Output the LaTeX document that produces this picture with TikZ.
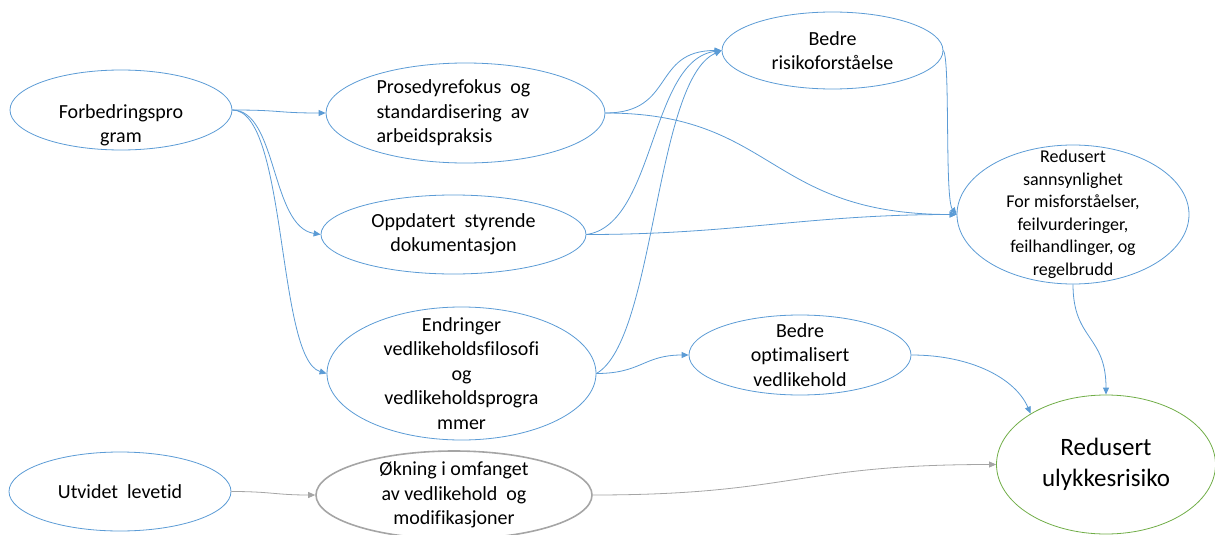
\documentclass[tikz,border=0pt]{standalone}
\usepackage{fontspec}
\setmainfont{Carlito}[Ligatures=NoCommon]
\usepackage{tikz}
\usetikzlibrary{shapes.geometric, arrows.meta}
\definecolor{blueline}{HTML}{5B9BD5}
\definecolor{greenline}{HTML}{70AD47}
\definecolor{grayline}{HTML}{A5A5A5}
\tikzstyle{bubble} = [ellipse, draw=blueline, line width=0.8pt, inner xsep=0pt, inner ysep=-80pt, align=center, font=\fontsize{20}{24.5}\selectfont]
\tikzstyle{arrow} = [line width=0.8pt, draw=blueline, -{Triangle[length=7pt,width=6pt]}]
\tikzstyle{grayarrow} = [arrow, draw=grayline]

\begin{document}
\begin{tikzpicture}[x=1pt, y=-1pt]
        \useasboundingbox (0,0) rectangle (1215,535);

        \node (forb) [bubble, minimum width=222pt, minimum height=80pt] at (121,110) {\rule{0pt}{44pt}Forbedringspro\\gram};
        \node (pros) [bubble, minimum width=279pt, minimum height=100pt, align=left] at (465.5,113) {Prosedyrefokus\ \ og\rule{24pt}{0pt}\\standardisering\ \ av\\arbeidspraksis};
        \node (opp) [bubble, minimum width=265pt, minimum height=79pt] at (453.5,234.5) {Oppdatert\ \ styrende\\dokumentasjon};
        \node (endr) [bubble, minimum width=269pt, minimum height=133pt] at (461.5,373.5) {Endringer\\vedlikeholdsfilosofi\\og\\vedlikeholdsprogra\\mmer};
        \node (risk) [bubble, minimum width=221pt, minimum height=77pt] at (832.5,50.5) {Bedre\\risikoforståelse};
        \node (sann) [bubble, minimum width=232pt, minimum height=139pt, font=\fontsize{18}{22.5}\selectfont] at (1073,214.5) {Redusert\\sannsynlighet\\For misforståelser,\\feilvurderinger,\\feilhandlinger, og\\regelbrudd};
        \node (opt) [bubble, minimum width=222pt, minimum height=80pt] at (800,355) {Bedre\\optimalisert\\vedlikehold};
        \node (red) [bubble, draw=greenline, minimum width=219pt, minimum height=139pt, font=\fontsize{25}{31}\selectfont] at (1106,464.5) {Redusert\\ulykkesrisiko};
        \node (utv) [bubble, minimum width=222pt, minimum height=79pt] at (120,491.5) {Utvidet\ \ levetid};
        \node (okn) [bubble, draw=grayline, line width=1.6pt, minimum width=276pt, minimum height=88pt] at (454,495) {Økning i omfanget\\av vedlikehold\ \ og\\modifikasjoner};

        % from the programme
        \draw [arrow] (forb.east) .. controls +(50,0) and +(-50,0) .. (pros.west);
        \draw [arrow] (forb.east) .. controls +(45,0) and +(-50,-8) .. (opp.west);
        \draw [arrow] (forb.east) .. controls +(55,0) and +(-50,-15) .. (endr.west);

        % into risk understanding
        \draw [arrow] (pros.east) .. controls +(70,0) and +(-70,0) .. (risk.west);
        \draw [arrow] (opp.east) .. controls +(69,-9.5) and +(-72,9.5) .. (risk.west);
        \draw [arrow] (endr.east) .. controls +(59,-33.5) and +(-67,29.5) .. (risk.west);

        % into reduced probability
        \draw [arrow] (pros.east) .. controls +(170,0) and +(-190,0) .. (sann.west);
        \draw [arrow] (opp.east) .. controls +(150,0) and +(-150,0) .. (sann.west);
        \draw [arrow] (risk.east) .. controls +(7,10) and +(-12,-15) .. (sann.west);

        \draw [arrow] (endr.east) .. controls +(45,0) and +(-45,0) .. (opt.west);

        % into reduced accident risk
        \draw [arrow] (sann.south) .. controls +(0,56) and +(0,-60) .. (red.north);
        \draw [arrow] (opt.east) .. controls +(60,0) and +(-15,-35) .. (red.146);

        % lifetime extension (grey)
        \draw [grayarrow] (utv.east) .. controls +(40,0) and +(-40,0) .. (okn.west);
        \draw [grayarrow] (okn.east) .. controls +(200,0) and +(-200,0) .. (red.west);

\end{tikzpicture}
\end{document}
